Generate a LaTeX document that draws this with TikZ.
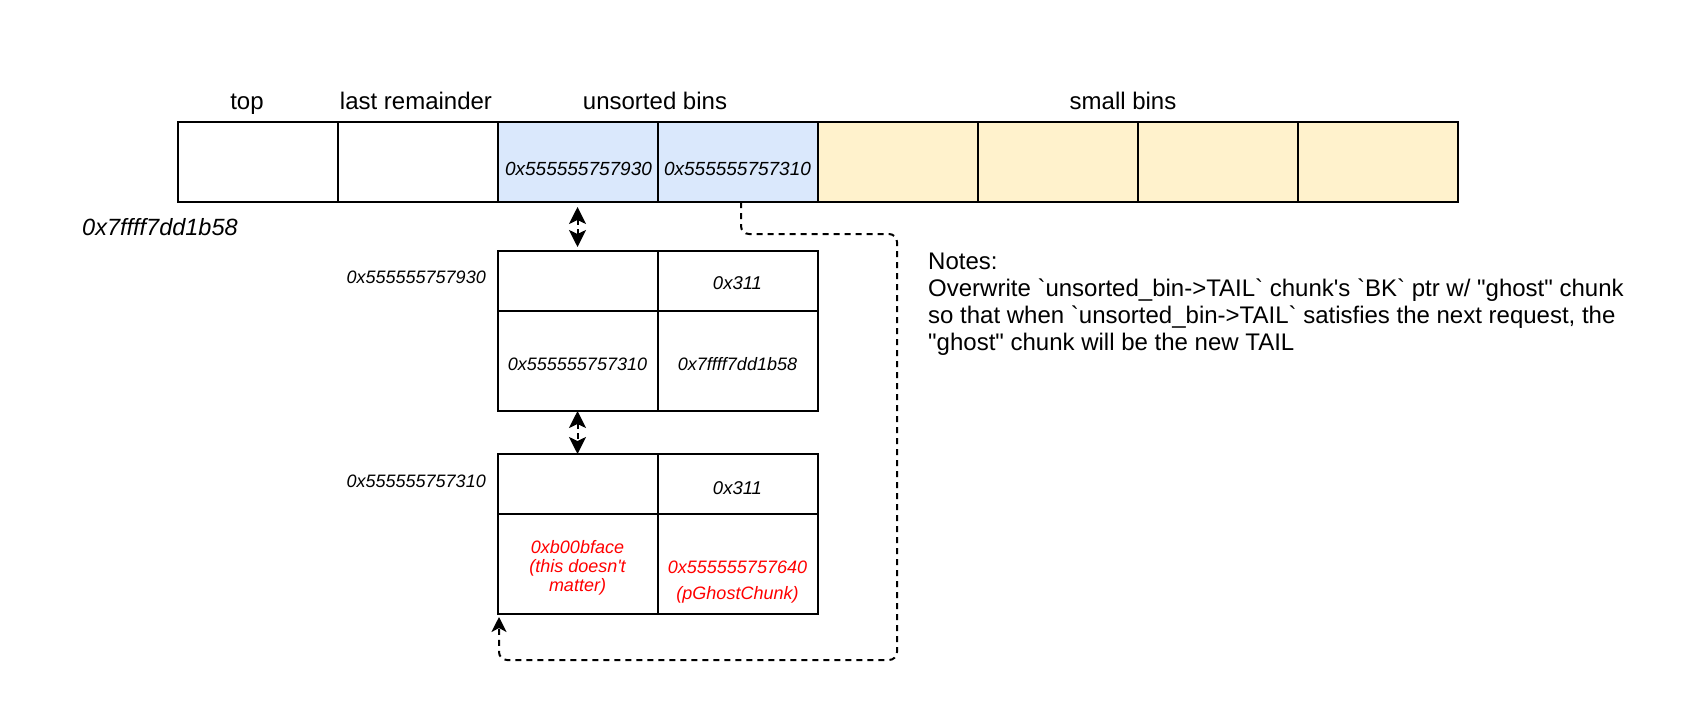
\documentclass[tikz,border=0pt]{standalone}
\usepackage{fontspec}
\newfontfamily\helv{Liberation Sans}
\usetikzlibrary{arrows.meta,calc}
\definecolor{binblue}{HTML}{DAE8FC}
\definecolor{binyellow}{HTML}{FFF2CC}
\definecolor{ghostred}{HTML}{FF0000}
\newcommand\myfs[1]{\helv\fontsize{#1bp}{1.15\dimexpr#1bp\relax}\selectfont}
\begin{document}
\begin{tikzpicture}[x=1bp,y=-1bp,
  cell/.style={draw=black, line width=2bp, minimum width=160bp, inner sep=0pt, outer sep=0pt, anchor=north west},
  rowcell/.style={cell, minimum height=80bp},
  hdcell/.style={cell, minimum height=60bp},
  bodycell/.style={cell, minimum height=100bp},
  lbl/.style={inner sep=0pt, font=\myfs{24}},
  celltxt/.style={inner sep=0pt, font=\myfs{19}\itshape},
  chtxt/.style={inner sep=0pt, font=\myfs{18}\itshape},
  redtxt/.style={chtxt, text=ghostred, anchor=base},
  notetxt/.style={inner sep=0pt, font=\myfs{24}, anchor=base west},
  dbl/.style={line width=2bp, dash pattern=on 6bp off 4bp, {Stealth[length=17bp,width=17bp,inset=4bp]}-{Stealth[length=17bp,width=17bp,inset=4bp]}},
  ghostline/.style={line width=2bp, dash pattern=on 6bp off 5bp, rounded corners=8bp, -{Stealth[length=15bp,width=15bp,inset=4bp]}}
]
\useasboundingbox (0,0) rectangle (1690,726);

% top row of bins
\node[rowcell] (t1) at (177.5,122) {};
\node[rowcell] (t2) at (337.5,122) {};
\node[rowcell, fill=binblue] (t3) at (497.5,122) {};
\node[rowcell, fill=binblue] (t4) at (657.5,122) {};
\node[rowcell, fill=binyellow] (t5) at (817.5,122) {};
\node[rowcell, fill=binyellow] (t6) at (977.5,122) {};
\node[rowcell, fill=binyellow] (t7) at (1137.5,122) {};
\node[rowcell, fill=binyellow] (t8) at (1297.5,122) {};

\node[celltxt] (t3txt) at ($(t3.center)+(1,6.5)$) {0x555555757930};
\node[celltxt] (t4txt) at ($(t4.center)+(0,6.5)$) {0x555555757310};

% headings
\node[lbl, anchor=base] (ltop) at (247,110) {top};
\node[lbl, anchor=base] (llast) at (416,110) {last remainder};
\node[lbl, anchor=base] (lunsorted) at (655,110) {unsorted bins};
\node[lbl, anchor=base] (lsmall) at (1123,110) {small bins};

\node[inner sep=0pt, font=\myfs{23.5}\itshape, anchor=base west] (arena) at (82,235) {0x7ffff7dd1b58};

% chunk 1
\node[hdcell] (c1a) at (497.5,251) {};
\node[hdcell] (c1b) at (657.5,251) {};
\node[bodycell] (c1c) at (497.5,311) {};
\node[bodycell] (c1d) at (657.5,311) {};
\node[chtxt, anchor=east] (c1addr) at (486,277) {0x555555757930};
\node[chtxt, font=\myfs{18.5}\itshape] (c1size) at ($(c1b.center)+(0,2)$) {0x311};
\node[chtxt] (c1fd) at ($(c1c.center)+(0,3)$) {0x555555757310};
\node[chtxt] (c1bk) at ($(c1d.center)+(0,3)$) {0x7ffff7dd1b58};

% chunk 2
\node[hdcell] (c2a) at (497.5,454) {};
\node[hdcell] (c2b) at (657.5,454) {};
\node[bodycell] (c2c) at (497.5,514) {};
\node[bodycell] (c2d) at (657.5,514) {};
\node[chtxt, anchor=east] (c2addr) at (486,481) {0x555555757310};
\node[chtxt, font=\myfs{18.5}\itshape] (c2size) at ($(c2b.center)+(0,4)$) {0x311};
\node[redtxt] (r1) at (577.5,553) {0xb00bface};
\node[redtxt] (r2) at (577.5,572.5) {(this doesn't};
\node[redtxt] (r3) at (577.5,591.5) {matter)};
\node[redtxt] (r4) at (737.5,573.5) {0x555555757640};
\node[redtxt] (r5) at (737.5,599) {(pGhostChunk)};

% notes
\node[notetxt] (n1) at (928,269) {Notes:};
\node[notetxt] (n2) at (928,296) {Overwrite `unsorted\_bin->TAIL` chunk's `BK` ptr w/ "ghost" chunk};
\node[notetxt] (n3) at (928,323) {so that when `unsorted\_bin->TAIL` satisfies the next request, the};
\node[notetxt] (n4) at (928,350) {"ghost" chunk will be the new TAIL};

% connectors
\draw[dbl, shorten <=5bp, shorten >=4bp] (t3.south) -- (c1a.north);
\draw[dbl] (c1c.south) -- (c2a.north);

\coordinate (gs) at ($(t4.south)+(3.5,0)$);
\coordinate (ge) at ($(c2c.south west)+(1.5,3)$);
\draw[ghostline] (gs) -- ($(gs)+(0,32)$) -- (897,234) -- (897,660) -- ($(ge)+(0,43)$) -- (ge);
\end{tikzpicture}
\end{document}
